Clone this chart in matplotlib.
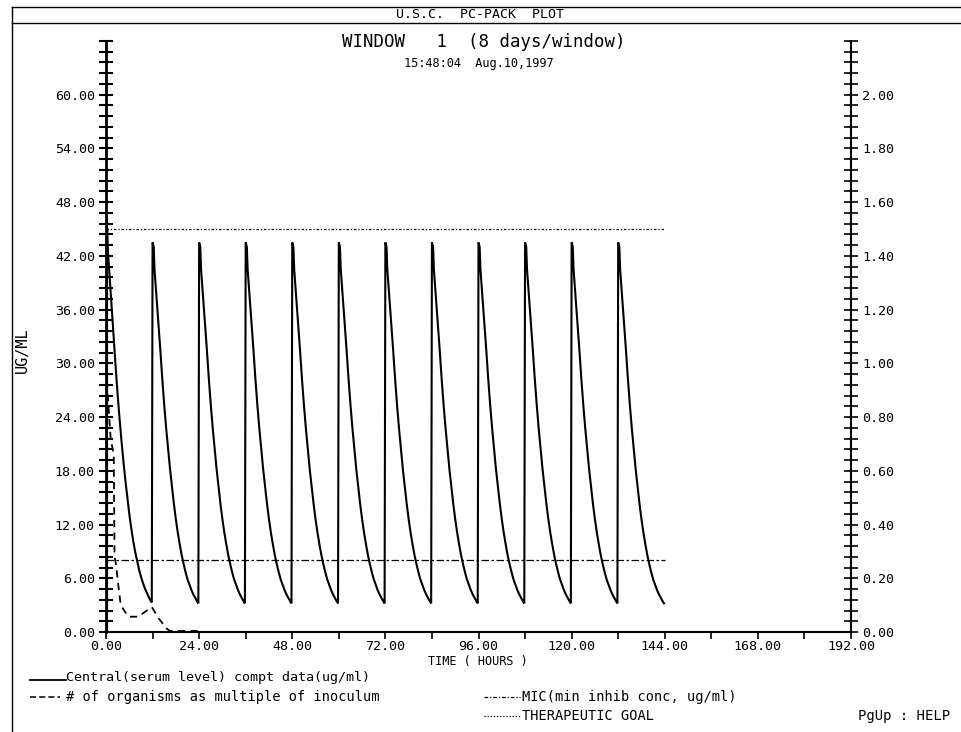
import numpy as np
import matplotlib
matplotlib.use("Agg")
from matplotlib import pyplot as plt
from matplotlib.lines import Line2D

plt.rcParams['font.family'] = ['DejaVu Sans Mono']

# dosing: one peak every 12 h after the loading dose at t=0
dose_times = [12, 24, 36, 48, 60, 72, 84, 96, 108, 120, 132]

# serum level within one dosing interval (hours after dose, ug/ml)
cycle_t = [0.0, 0.3, 0.5, 1.0, 1.5, 2.0, 2.5, 3.0, 3.5, 4.0, 4.5, 5.0, 5.5, 6.0,
           6.5, 7.0, 7.5, 8.0, 8.5, 9.0, 9.5, 10.0, 10.5, 11.0, 11.5, 11.8]
cycle_conc = [43.5, 43.0, 40.5, 37.5, 34.5, 31.5, 28.3, 25.4, 22.8, 20.5, 18.2, 16.2, 14.3, 12.6,
              11.1, 9.8, 8.6, 7.6, 6.7, 5.9, 5.3, 4.7, 4.2, 3.8, 3.4, 3.2]
# first interval (loading dose)
first_conc = [46.0, 45.0, 42.5, 39.3, 36.0, 32.8, 29.5, 26.5, 23.8, 21.3, 19.0, 16.9, 15.0, 13.2,
              11.6, 10.2, 9.0, 8.0, 7.0, 6.2, 5.5, 4.9, 4.4, 3.9, 3.5, 3.3]

# organisms as multiple of inoculum (right axis)
org_t = [0.0, 0.6, 1.2, 2.0, 2.2, 2.6, 3.2, 3.8, 5.7, 8.3, 11.8, 13.6, 15.6, 16.5, 25.0]
org_val = [0.98, 0.85, 0.72, 0.66, 0.28, 0.25, 0.17, 0.10, 0.057, 0.057, 0.093, 0.05, 0.013, 0.004, 0.004]

mic = 8.0
goal = 45.0
line_end = 144

# build the serum series
serum_t = [0.0] + list(cycle_t)
serum_c = [0.0] + list(first_conc)
for d in dose_times:
    serum_t += [d + t for t in cycle_t]
    serum_c += list(cycle_conc)

W, H = 961, 732
fig = plt.figure(figsize=(W / 100, H / 100), dpi=100)

ax = fig.add_axes([106 / W, 1 - 632 / H, (851 - 106) / W, (632 - 41) / H])
ax2 = ax.twinx()

ax.plot(serum_t, serum_c, color='black', lw=1.5, solid_joinstyle='miter')
ax.plot([0, 0], [0, first_conc[0]], color='black', lw=3)
ax2.plot(org_t, org_val, color='black', lw=1.3, linestyle=(0, (4, 3)), clip_on=False, zorder=5)
ax.plot([0, line_end], [mic, mic], color='black', lw=0.9, linestyle=(0, (6, 2, 2, 2)))
ax.plot([0, line_end], [goal, goal], color='black', lw=0.9, linestyle=(0, (2, 1.5, 1, 1.5)))

ax.set_xlim(0, 192)
ax.set_ylim(0, 66)
ax2.set_ylim(0, 2.2)

for s in ['top', 'right']:
    ax.spines[s].set_visible(False)
for s in ['top', 'left', 'bottom']:
    ax2.spines[s].set_visible(False)
ax.spines['left'].set_linewidth(2)
ax.spines['bottom'].set_linewidth(1.5)
ax2.spines['right'].set_linewidth(1.5)

ax.set_xticks(np.arange(0, 193, 24))
ax.set_xticks(np.arange(0, 193, 12), minor=True)
ax.set_xticklabels([f'{v:.2f}' for v in np.arange(0, 193, 24)])
ax.set_yticks(np.arange(0, 61, 6))
ax.set_yticks(np.arange(0, 66.1, 1.2), minor=True)
ax.set_yticklabels([f'{v:.2f}' for v in np.arange(0, 61, 6)])
ax2.set_yticks(np.arange(0, 2.01, 0.2))
ax2.set_yticks(np.arange(0, 2.201, 0.04), minor=True)
ax2.set_yticklabels([f'{v:.2f}' for v in np.arange(0, 2.01, 0.2)])

ax.tick_params(axis='x', which='both', direction='out', length=5, width=1.2, labelsize=9.6, pad=1)
ax.tick_params(axis='y', which='both', direction='inout', length=10, width=1.5, labelsize=9.6, pad=3)
ax2.tick_params(axis='y', which='both', direction='inout', length=10, width=1.2, labelsize=9.6, pad=3)

# frame and header
fig.add_artist(Line2D([12 / W, 12 / W], [0, 1 - 7 / H], color='black', lw=1))
fig.add_artist(Line2D([12 / W, 1], [1 - 7 / H, 1 - 7 / H], color='black', lw=1))
fig.add_artist(Line2D([12 / W, 1], [1 - 23 / H, 1 - 23 / H], color='black', lw=1))

def ftext(x, y, s, size, **kw):
    fig.text(x / W, 1 - y / H, s, fontsize=size, **kw)

ftext(480, 15, 'U.S.C.  PC-PACK  PLOT', 9.5, ha='center', va='center')
ftext(484, 42, 'WINDOW   1  (8 days/window)', 12.5, ha='center', va='center')
ftext(479, 64, '15:48:04  Aug.10,1997', 8.6, ha='center', va='center')
ftext(22, 350, 'UG/ML', 11, ha='center', va='center', rotation=90)
ftext(478, 661, 'TIME ( HOURS )', 8.5, ha='center', va='center')

# legend
def legline(x0, x1, y, ls, lw=1.0):
    fig.add_artist(Line2D([x0 / W, x1 / W], [1 - y / H, 1 - y / H], color='black', lw=lw, linestyle=ls))

legline(30, 66, 680, '-', 1.3)
ftext(66, 677, 'Central(serum level) compt data(ug/ml)', 9.6, ha='left', va='center')
legline(30, 60, 697, (0, (4, 2)), 1.1)
ftext(66, 697, '# of organisms as multiple of inoculum', 9.8, ha='left', va='center')
legline(484, 520, 697, (0, (3, 1.5, 1, 1.5)), 0.9)
ftext(522, 697, 'MIC(min inhib conc, ug/ml)', 9.8, ha='left', va='center')
legline(484, 520, 716, (0, (1, 1.5)), 0.9)
ftext(522, 716, 'THERAPEUTIC GOAL', 9.8, ha='left', va='center')
ftext(950, 716, 'PgUp : HELP', 10, ha='right', va='center')

fig.savefig('out.png', dpi=100)
